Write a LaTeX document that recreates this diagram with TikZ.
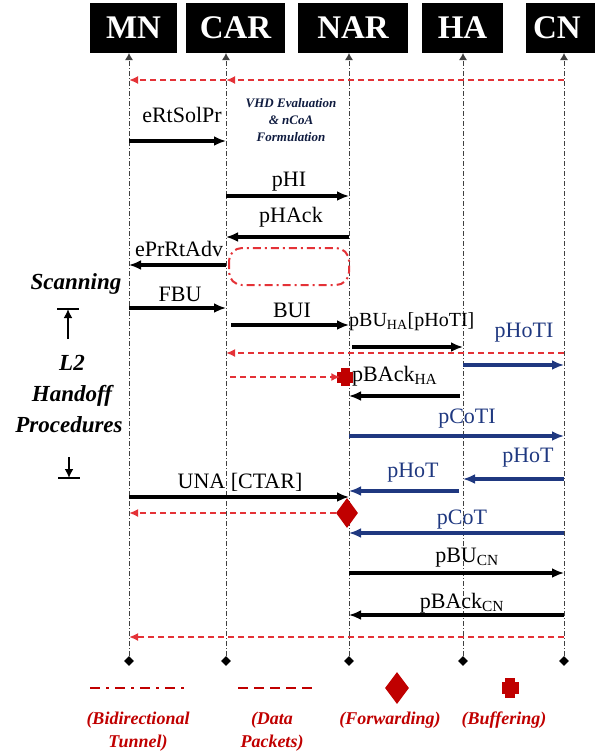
\documentclass[tikz,border=0pt]{standalone}
\usepackage{fontspec}
\setmainfont{Liberation Serif}
\usetikzlibrary{arrows.meta,shapes.geometric,positioning}
\definecolor{navy}{RGB}{31,56,128}
\definecolor{pktred}{RGB}{228,50,55}
\definecolor{symred}{RGB}{192,0,0}

\begin{document}
\begin{tikzpicture}[x=1pt, y=-1pt,
  ent/.style={fill=black, text=white, font=\fontsize{33}{36}\selectfont\bfseries, minimum height=50pt, inner sep=0pt},
  life/.style={draw=black!75, line width=0.9pt, dash pattern=on 5pt off 2pt on 1pt off 2pt, -{Latex[length=7pt,width=8pt]}},
  endmark/.style={diamond, fill=black, minimum size=10pt, inner sep=0pt},
  msg/.style={line width=3.2pt, -{Latex[length=12pt,width=10pt]}},
  bmsg/.style={msg, navy},
  pkt/.style={pktred, line width=1.8pt, dash pattern=on 6pt off 4pt, -{Latex[length=9pt,width=8pt]}},
  tunnel/.style={pktred, line width=2pt, dash pattern=on 8pt off 4pt on 2pt off 4pt},
  lbl/.style={font=\fontsize{22}{24}\selectfont, inner sep=0pt},
  blbl/.style={lbl, text=navy},
  side/.style={font=\fontsize{23}{26}\selectfont\bfseries\itshape, inner sep=0pt},
  key/.style={font=\fontsize{18}{23}\selectfont\bfseries\itshape, text=symred, align=center, inner sep=0pt},
  fwdmark/.style={diamond, fill=symred, inner sep=0pt, minimum width=22pt, minimum height=30pt},
  bufv/.style={fill=symred, inner sep=0pt, minimum width=9pt, minimum height=18pt},
  bufh/.style={fill=symred, inner sep=0pt, minimum width=16pt, minimum height=11pt}
]
\useasboundingbox (0,0) rectangle (595,756);

% entities
\node[ent, minimum width=87pt] (mn) at (133.5,28) {MN};
\node[ent, minimum width=99pt] (car) at (235.5,28) {CAR};
\node[ent, minimum width=110pt] (nar) at (353,28) {NAR};
\node[ent, minimum width=81pt] (ha) at (462.5,28) {HA};
\node[ent, minimum width=74pt, text width=60pt, align=left] (cn) at (563,28) {CN};

% lifelines
\coordinate (mnT) at (129,53);
\coordinate (carT) at (226,53);
\coordinate (narT) at (349,53);
\coordinate (haT) at (463,53);
\coordinate (cnT) at (564,53);
\node[endmark] (mnE) at (129,661) {};
\node[endmark] (carE) at (226,661) {};
\node[endmark] (narE) at (349,661) {};
\node[endmark] (haE) at (463,661) {};
\node[endmark] (cnE) at (564,661) {};
\draw[life] (mnE) -- (mnT);
\draw[life] (carE) -- (carT);
\draw[life] (narE) -- (narT);
\draw[life] (haE) -- (haT);
\draw[life] (cnE) -- (cnT);

% data packets
\draw[pkt] (cnT |- 0,80) -- (carT |- 0,80);
\draw[pkt] (carT |- 0,80) -- (mnT |- 0,80);

% scanning phase
\draw[msg] (mnT |- 0,141) -- (carT |- 0,141);
\node[lbl] (ertsolpr) at (182,115) {eRtSolPr};
\node[font=\fontsize{13}{17}\selectfont\bfseries\itshape, text=navy!50!black, align=center, inner sep=0pt] (vhd) at (291,120) {VHD Evaluation\\\& nCoA\\Formulation};
\draw[msg] (carT |- 0,196) -- (narT |- 0,196);
\node[lbl] (phi) at (289,182) {pHI};
\draw[msg] (narT |- 0,237) -- (carT |- 0,237);
\node[lbl] (phack) at (291,217) {pHAck};
\draw[msg] (carT |- 0,265) -- (mnT |- 0,265);
\node[lbl] (eprrtadv) at (179,249) {ePrRtAdv};
\draw[tunnel, rounded corners=13pt] ([xshift=3pt]carT |- 0,248) rectangle (narT |- 0,285);

% handoff phase
\draw[msg] (mnT |- 0,308) -- (carT |- 0,308);
\node[lbl] (fbu) at (180,294) {FBU};
\draw[msg, shorten <=5pt] (carT |- 0,325) -- (narT |- 0,325);
\node[lbl] (bui) at (292,310) {BUI};
\draw[msg, shorten <=3pt] (narT |- 0,347) -- (haT |- 0,347);
\node[lbl, font=\fontsize{20}{22}\selectfont, anchor=west] (pbuha) at (349,322) {pBU\textsubscript{HA}[pHoTI]};
\draw[pkt] (cnT |- 0,353) -- (carT |- 0,353);
\draw[bmsg] (haT |- 0,365) -- (cnT |- 0,365);
\node[blbl] (photi) at (524,333) {pHoTI};
\node[bufv] (buf) at (345,377) {};
\node[bufh] at (buf) {};
\draw[pkt, shorten <=4pt] (carT |- buf.west) -- (buf.west);
\draw[msg, shorten <=3pt] (haT |- 0,396) -- (narT |- 0,396);
\node[lbl, anchor=west] (pbackha) at (352,376) {pBAck\textsubscript{HA}};
\draw[bmsg] (narT |- 0,436) -- (cnT |- 0,436);
\node[blbl] (pcoti) at (467,419) {pCoTI};
\draw[bmsg] (cnT |- 0,479) -- (haT |- 0,479);
\node[blbl] (phot) at (528,458) {pHoT};
\draw[bmsg, shorten <=4pt] (haT |- 0,491) -- (narT |- 0,491);
\node[blbl] (phota) at (413,473) {pHoT};
\draw[msg] (mnT |- 0,497) -- (narT |- 0,497);
\node[lbl] (una) at (240,482) {UNA [CTAR]};
\node[fwdmark] (fwd) at (347,513) {};
\draw[pkt] (fwd.west) -- (mnT |- fwd.west);
\draw[bmsg] (cnT |- 0,533) -- (narT |- 0,533);
\node[blbl] (pcot) at (462,520) {pCoT};
\draw[msg] (narT |- 0,573) -- (cnT |- 0,573);
\node[lbl] (pbucn) at (467,558) {pBU\textsubscript{CN}};
\draw[msg] (cnT |- 0,615) -- (narT |- 0,615);
\node[lbl] (pbackcn) at (462,603) {pBAck\textsubscript{CN}};
\draw[pkt] (cnT |- 0,637) -- (mnT |- 0,637);

% side notes
\node[side] (scan) at (76,284) {Scanning};
\coordinate (upT) at (68,309);
\coordinate (upB) at (68,339);
\draw[line width=2.6pt, -{Latex[length=9pt,width=9pt]}] (upB) -- (upT);
\draw[line width=2.6pt] ([xshift=-11pt]upT) -- ([xshift=11pt]upT);
\node[side] (ltwo) at (72,363) {L2};
\node[side] (hoff) at (72,396) {Handoff};
\node[side] (proc) at (69,425) {Procedures};
\coordinate (dnT) at (69,457);
\coordinate (dnB) at (69,478);
\draw[line width=2.6pt, -{Latex[length=9pt,width=9pt]}] (dnT) -- (dnB);
\draw[line width=2.6pt] ([xshift=-11pt]dnB) -- ([xshift=11pt]dnB);

% legend
\coordinate (tunA) at (90,688);
\coordinate (tunB) at (186,688);
\draw[symred, line width=2.8pt, dash pattern=on 10pt off 6pt on 3pt off 6pt] (tunA) -- (tunB);
\coordinate (pktA) at (238,688);
\coordinate (pktB) at (317,688);
\draw[symred, line width=2.8pt, dash pattern=on 10pt off 6pt] (pktA) -- (pktB);
\node[fwdmark, minimum width=24pt, minimum height=32pt] (fwdkey) at (397,688) {};
\node[bufv, minimum width=10pt, minimum height=20pt] (bufkey) at (510,688) {};
\node[bufh, minimum width=17pt, minimum height=12pt] at (bufkey) {};
\node[key] (tunlbl) at (138,732) {(Bidirectional\\Tunnel)};
\node[key] (pktlbl) at (272,732) {(Data\\Packets)};
\node[key] (fwdlbl) at (390,720) {(Forwarding)};
\node[key] (buflbl) at (504,720) {(Buffering)};
\end{tikzpicture}
\end{document}
